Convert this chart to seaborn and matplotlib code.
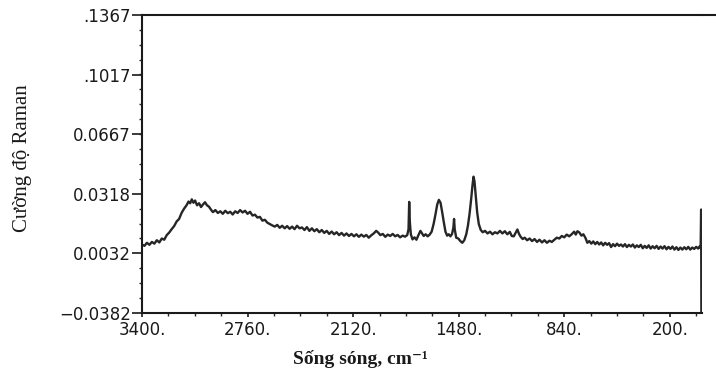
import numpy as np
import pandas as pd
import matplotlib
matplotlib.use("Agg")
import matplotlib.pyplot as plt
from matplotlib.lines import Line2D
from matplotlib.ticker import AutoMinorLocator, FixedLocator
import seaborn as sns

# Raman spectrum: wavenumber (cm^-1) and intensity
wavenumber = [
    3400, 3385, 3370, 3355, 3340, 3325, 3310, 3295, 3280, 3265, 3250, 3235, 3220, 3205,
    3190, 3175, 3160, 3145, 3130, 3118, 3108, 3098, 3088, 3078, 3066, 3054, 3042, 3030,
    3018, 3006, 2994, 2982, 2970, 2955, 2940, 2925, 2910, 2895, 2880, 2865, 2850, 2835,
    2820, 2805, 2790, 2775, 2760, 2745, 2730, 2715, 2700, 2685, 2670, 2655, 2640, 2625,
    2610, 2595, 2580, 2565, 2550, 2535, 2520, 2505, 2490, 2475, 2460, 2445, 2430, 2415,
    2400, 2385, 2370, 2355, 2340, 2325, 2310, 2295, 2280, 2265, 2250, 2235, 2220, 2205,
    2190, 2175, 2160, 2145, 2130, 2115, 2100, 2085, 2070, 2055, 2040, 2025, 2010, 1995,
    1980, 1968, 1955, 1940, 1925, 1910, 1895, 1880, 1865, 1850, 1835, 1820, 1805, 1792,
    1784, 1780, 1776, 1770, 1760, 1748, 1736, 1724, 1712, 1702, 1692, 1680, 1668, 1656,
    1644, 1632, 1620, 1610, 1600, 1590, 1580, 1570, 1560, 1550, 1540, 1530, 1520, 1512,
    1508, 1504, 1495, 1482, 1470, 1458, 1446, 1434, 1424, 1414, 1404, 1396, 1390, 1384,
    1376, 1368, 1358, 1346, 1334, 1320, 1305, 1290, 1275, 1260, 1245, 1230, 1215, 1200,
    1185, 1170, 1158, 1146, 1134, 1124, 1114, 1104, 1092, 1080, 1065, 1050, 1035, 1020,
    1005, 990, 975, 960, 945, 930, 915, 900, 885, 870, 855, 840, 825, 810,
    795, 780, 770, 760, 748, 736, 724, 712, 700, 688, 676, 664, 652, 640,
    628, 616, 604, 592, 580, 568, 556, 544, 532, 520, 508, 496, 484, 472,
    460, 448, 436, 424, 412, 400, 388, 376, 364, 352, 340, 328, 316, 304,
    292, 280, 268, 256, 244, 232, 220, 208, 196, 184, 172, 160, 148, 136,
    124, 112, 100, 88, 76, 64, 52, 40, 28, 18, 13, 10, 8,
]
intensity = [
    0.0020, 0.0012, 0.0030, 0.0018, 0.0035, 0.0025, 0.0045, 0.0032, 0.0055, 0.0048, 0.0075, 0.0090, 0.0110, 0.0128,
    0.0155, 0.0170, 0.0205, 0.0230, 0.0250, 0.0272, 0.0262, 0.0285, 0.0265, 0.0278, 0.0250, 0.0262, 0.0240, 0.0255,
    0.0268, 0.0250, 0.0242, 0.0225, 0.0210, 0.0222, 0.0205, 0.0215, 0.0200, 0.0218, 0.0204, 0.0212, 0.0196, 0.0215,
    0.0205, 0.0222, 0.0208, 0.0218, 0.0200, 0.0212, 0.0190, 0.0195, 0.0178, 0.0182, 0.0160, 0.0165, 0.0148, 0.0140,
    0.0132, 0.0125, 0.0135, 0.0118, 0.0130, 0.0115, 0.0128, 0.0112, 0.0125, 0.0110, 0.0130, 0.0115, 0.0120, 0.0105,
    0.0122, 0.0100, 0.0115, 0.0098, 0.0110, 0.0092, 0.0105, 0.0088, 0.0100, 0.0082, 0.0096, 0.0080, 0.0092, 0.0075,
    0.0088, 0.0072, 0.0085, 0.0070, 0.0082, 0.0068, 0.0080, 0.0065, 0.0078, 0.0066, 0.0076, 0.0060, 0.0074, 0.0085,
    0.0100, 0.0090, 0.0075, 0.0082, 0.0065, 0.0078, 0.0070, 0.0082, 0.0068, 0.0076, 0.0062, 0.0072, 0.0066, 0.0075,
    0.0110, 0.0270, 0.0150, 0.0080, 0.0050, 0.0062, 0.0048, 0.0075, 0.0100, 0.0085, 0.0070, 0.0080, 0.0068, 0.0078,
    0.0095, 0.0140, 0.0200, 0.0255, 0.0282, 0.0265, 0.0210, 0.0150, 0.0095, 0.0072, 0.0080, 0.0068, 0.0082, 0.0120,
    0.0170, 0.0110, 0.0060, 0.0055, 0.0040, 0.0030, 0.0045, 0.0080, 0.0130, 0.0200, 0.0290, 0.0370, 0.0418, 0.0390,
    0.0300, 0.0210, 0.0140, 0.0105, 0.0092, 0.0100, 0.0085, 0.0095, 0.0080, 0.0092, 0.0085, 0.0100, 0.0085, 0.0098,
    0.0080, 0.0094, 0.0070, 0.0068, 0.0090, 0.0108, 0.0082, 0.0065, 0.0052, 0.0060, 0.0045, 0.0055, 0.0040, 0.0052,
    0.0035, 0.0048, 0.0032, 0.0045, 0.0030, 0.0042, 0.0035, 0.0048, 0.0060, 0.0055, 0.0070, 0.0062, 0.0078, 0.0068,
    0.0080, 0.0095, 0.0078, 0.0098, 0.0090, 0.0072, 0.0080, 0.0060, 0.0030, 0.0040, 0.0025, 0.0038, 0.0022, 0.0035,
    0.0020, 0.0032, 0.0015, 0.0030, 0.0018, 0.0028, 0.0005, 0.0022, 0.0010, 0.0025, 0.0012, 0.0020, 0.0008, 0.0022,
    0.0005, 0.0018, 0.0008, 0.0020, 0.0002, 0.0015, 0.0005, 0.0018, -0.0002, 0.0012, 0.0000, 0.0015, -0.0004, 0.0010,
    -0.0002, 0.0012, -0.0006, 0.0008, -0.0004, 0.0010, -0.0008, 0.0006, -0.0006, 0.0008, -0.0010, 0.0004, -0.0012, 0.0002,
    -0.0010, 0.0004, -0.0008, 0.0006, -0.0010, 0.0002, -0.0006, 0.0006, -0.0004, 0.0010, 0.0000, 0.0225, -0.0600,
]

x_ticks = [3400, 2760, 2120, 1480, 840, 200]
x_tick_labels = ["3400.", "2760.", "2120.", "1480.", "840.", "200."]
y_ticks = [-0.0382, -0.0032, 0.0318, 0.0667, 0.1017, 0.1367]
y_tick_labels = ["\u22120.0382", "0.0032", "0.0318", "0.0667", ".1017", ".1367"]

df = pd.DataFrame({"wavenumber": wavenumber, "intensity": intensity})

sns.set_style("ticks")
plt.rcParams["font.family"] = ["DejaVu Sans"]

fig = plt.figure(figsize=(7.16, 3.76), dpi=100)
ax = fig.add_axes([0.1983, 0.1676, 0.7821, 0.7925])

sns.lineplot(data=df, x="wavenumber", y="intensity", ax=ax, estimator=None,
             sort=False, color="#262626", linewidth=1.7)

ax.set_xlim(3400, 5)
ax.set_ylim(-0.0382, 0.1367)

ax.xaxis.set_major_locator(FixedLocator(x_ticks))
ax.set_xticklabels(x_tick_labels)
ax.xaxis.set_minor_locator(AutoMinorLocator(4))
ax.yaxis.set_major_locator(FixedLocator(y_ticks))
ax.set_yticklabels(y_tick_labels)
ax.yaxis.set_minor_locator(AutoMinorLocator(4))

ax.tick_params(axis="x", which="major", direction="out", length=3, width=1.2,
               pad=3, labelsize=12, colors="#1a1a1a")
ax.tick_params(axis="x", which="minor", direction="out", length=2.5, width=1.0)
ax.tick_params(axis="y", which="major", direction="out", length=7, width=1.2,
               pad=1, labelsize=12, colors="#1a1a1a")
ax.tick_params(axis="y", which="minor", direction="out", length=2.5, width=1.0)

ax.spines["right"].set_visible(False)
for side in ("left", "bottom", "top"):
    ax.spines[side].set_linewidth(1.5)
    ax.spines[side].set_color("#1a1a1a")

# top border runs on to the right edge of the page
fig.add_artist(Line2D([0.98, 1.0], [0.9601, 0.9601], transform=fig.transFigure,
                      color="#1a1a1a", linewidth=1.5))

ax.set_xlabel("")
ax.set_ylabel("")
fig.text(0.031, 0.58, "Cường độ Raman", rotation=90, ha="center", va="center",
         fontsize=15, family=["Liberation Serif", "DejaVu Serif"], color="#1a1a1a")
fig.text(0.503, 0.045, "Sống sóng, cm\u207b\u00b9", ha="center", va="center",
         fontsize=14, fontweight="bold", family=["Liberation Serif", "DejaVu Serif"],
         color="#1a1a1a")

fig.savefig("out.png", dpi=100)
